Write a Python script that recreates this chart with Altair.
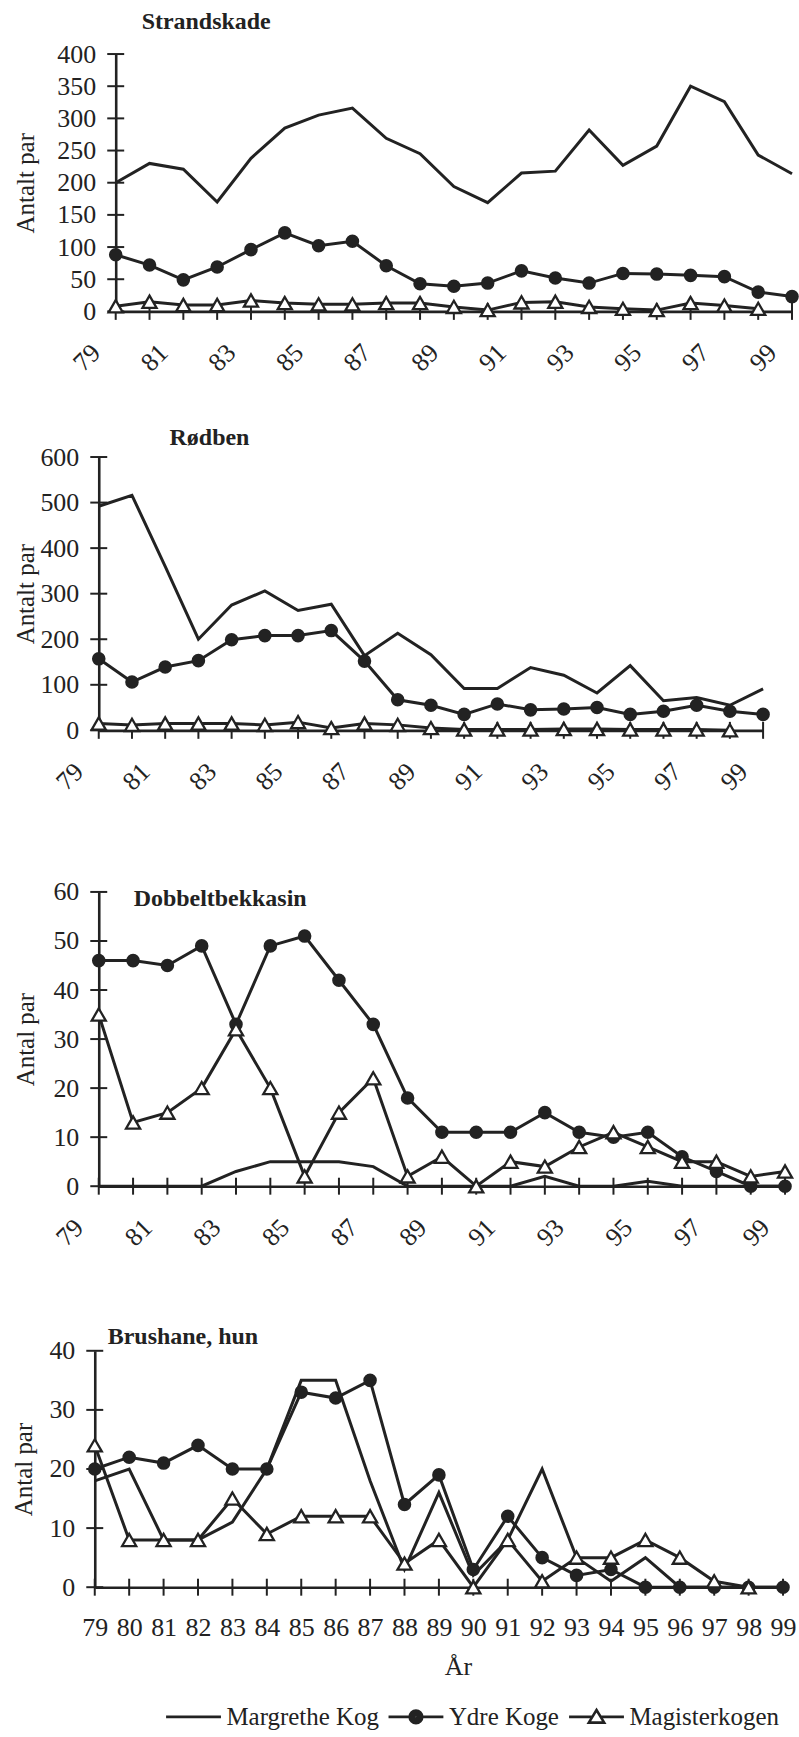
import altair as alt
import pandas as pd

# ---- data -------------------------------------------------------------
years = list(range(79, 100))
odd_years = list(range(79, 100, 2))
series_names = ["Margrethe Kog", "Ydre Koge", "Magisterkogen"]

# Strandskade
strand_margrethe = [200, 230, 221, 170, 238, 285, 305, 316, 269, 245, 194,
                    169, 215, 218, 282, 227, 257, 350, 326, 243, 214]
strand_ydre = [88, 72, 49, 69, 96, 122, 102, 109, 71, 43, 39,
               44, 63, 52, 44, 59, 58, 56, 54, 30, 23]
strand_magister = [8, 15, 10, 10, 17, 13, 11, 11, 13, 13, 7,
                   2, 14, 15, 7, 4, 2, 13, 9, 4, None]

# Rødben
roed_margrethe = [492, 516, 360, 200, 275, 306, 263, 277, 164, 213, 166,
                  92, 92, 138, 121, 82, 142, 65, 72, 55, 91]
roed_ydre = [157, 106, 139, 153, 199, 208, 208, 219, 152, 67, 55,
             35, 58, 45, 47, 50, 35, 42, 55, 42, 35]
roed_magister = [15, 12, 15, 15, 15, 12, 18, 5, 15, 12, 5,
                 2, 2, 2, 3, 3, 2, 2, 2, 0, None]

# Dobbeltbekkasin
dob_margrethe = [0, 0, 0, 0, 3, 5, 5, 5, 4, 0, 0,
                 0, 0, 2, 0, 0, 1, 0, 0, 0, 0]
dob_ydre = [46, 46, 45, 49, 33, 49, 51, 42, 33, 18, 11,
            11, 11, 15, 11, 10, 11, 6, 3, 0, 0]
dob_magister = [35, 13, 15, 20, 32, 20, 2, 15, 22, 2, 6,
                0, 5, 4, 8, 11, 8, 5, 5, 2, 3]

# Brushane, hun
bru_margrethe = [18, 20, 8, 8, 11, 20, 35, 35, 18, 3, 16,
                 2, 8, 20, 5, 1, 5, 0, 0, 0, 0]
bru_ydre = [20, 22, 21, 24, 20, 20, 33, 32, 35, 14, 19,
            3, 12, 5, 2, 3, 0, 0, 0, 0, 0]
bru_magister = [24, 8, 8, 8, 15, 9, 12, 12, 12, 4, 8,
                0, 8, 1, 5, 5, 8, 5, 1, 0, None]

# ---- styling ----------------------------------------------------------
FONT = "Liberation Serif"
INK = "#222222"
ORIGIN = 93  # page x of the shared panel origin

# legend glyphs (stroked only): plain line, line with solid dot,
# line with open triangle; the dot is filled with concentric rings
_rings = "".join(
    f"M{r},0A{r},{r},0,1,1,-{r},0A{r},{r},0,1,1,{r},0Z"
    for r in (0.23, 0.19, 0.15, 0.11, 0.07, 0.035)
)
SYM_LINE = "M-1,0L1,0"
SYM_DOT = "M-1,0L-0.2,0M0.2,0L1,0" + _rings
SYM_TRI = "M-1,0L-0.15,0M0.15,0L1,0M0,-0.25L0.28,0.21L-0.28,0.21Z"


def long_frame(margrethe, ydre, magister):
    rows = []
    for name, vals in zip(series_names, (margrethe, ydre, magister)):
        for yr, v in zip(years, vals):
            if v is not None:
                rows.append({"year": yr, "series": name, "v": v})
    return pd.DataFrame(rows)


def panel(df, title, title_pos, y_title, y_title_x, ymax, ystep,
          x_range, width, height, plot_h, bottom=False):
    x0, x1 = x_range
    yvals = list(range(0, ymax + 1, ystep))
    xs = alt.Scale(domain=[79, 99], range=[x0, x1], nice=False, zero=False)
    ys = alt.Scale(domain=[0, ymax], range=[height, height - plot_h],
                   nice=False, zero=True)

    y_axis = alt.Axis(
        values=yvals, ticks=False, grid=False, domainColor=INK, domainWidth=2.6,
        labelFont=FONT, labelFontSize=26, labelColor=INK, labelPadding=20,
        labelOverlap=False, labelFlush=False, offset=-x0,
        title=y_title, titleFont=FONT, titleFontSize=25, titleFontWeight="normal",
        titleColor=INK, titleAngle=270, titleBaseline="alphabetic",
        titleAlign="center", titleX=y_title_x - (ORIGIN + x0),
    )
    if bottom:
        x_axis = alt.Axis(
            values=years, format="d", ticks=False, grid=False, domainColor=INK,
            domainWidth=2.6, labelFont=FONT, labelFontSize=26, labelColor=INK,
            labelAngle=0, labelAlign="center", labelBaseline="middle",
            labelPadding=40, labelFlush=False, labelOverlap=False,
            title="År", titleFont=FONT, titleFontSize=26, titleFontWeight="normal",
            titleColor=INK, titleX=364, titleY=88, titleBaseline="alphabetic",
            titleAlign="center",
        )
    else:
        x_axis = alt.Axis(
            values=odd_years, format="d", ticks=False, grid=False, domainColor=INK,
            domainWidth=2.6, labelFont=FONT, labelFontSize=26, labelColor=INK,
            labelAngle=315, labelAlign="right", labelBaseline="middle",
            labelOffset=-20, labelPadding=37, labelFlush=False,
            labelOverlap=False, title=None,
        )

    X = alt.X("year:Q", scale=xs, axis=x_axis)
    Y = alt.Y("v:Q", scale=ys, axis=y_axis)

    # tick marks crossing both axis lines
    x_tick_df = pd.DataFrame({"year": years, "v": [0] * len(years)})
    y_tick_df = pd.DataFrame({"year": [79] * len(yvals), "v": yvals})
    x_ticks = alt.Chart(x_tick_df).mark_tick(
        orient="vertical", size=17, thickness=2, color=INK, opacity=1
    ).encode(x=X, y=Y)
    y_ticks = alt.Chart(y_tick_df).mark_tick(
        orient="horizontal", size=17, thickness=2, color=INK, opacity=1
    ).encode(x=X, y=Y)

    lines = alt.Chart(df).mark_line(color=INK, strokeWidth=3).encode(
        x=X, y=Y, detail="series:N"
    )
    dots = alt.Chart(df).transform_filter(
        alt.datum.series == "Ydre Koge"
    ).mark_point(shape="circle", filled=True, size=185, color=INK, opacity=1).encode(x=X, y=Y)
    tris = alt.Chart(df).transform_filter(
        alt.datum.series == "Magisterkogen"
    ).mark_point(shape="triangle-up", size=200, filled=True, fill="white",
                 stroke=INK, strokeWidth=2.3, opacity=1).encode(x=X, y=Y)

    heading = alt.Chart(pd.DataFrame({"t": [title]})).mark_text(
        align="left", baseline="alphabetic", font=FONT, fontSize=24,
        fontWeight="bold", color=INK
    ).encode(text="t:N", x=alt.value(title_pos[0]), y=alt.value(title_pos[1]))

    layers = [x_ticks, y_ticks, lines, dots, tris, heading]

    if bottom:
        key = alt.Chart(df).transform_filter("datum.v < 0").mark_point(
            filled=False, stroke=INK, strokeWidth=2.6
        ).encode(
            shape=alt.Shape(
                "series:N",
                scale=alt.Scale(domain=series_names,
                                range=[SYM_LINE, SYM_DOT, SYM_TRI]),
                legend=alt.Legend(
                    title=None, orient="none", legendX=70, legendY=503,
                    direction="horizontal", symbolSize=3025,
                    symbolStrokeColor=INK, symbolFillColor="white",
                    symbolStrokeWidth=2.6, symbolOpacity=1, labelFont=FONT,
                    labelFontSize=25, labelColor=INK, labelOffset=4,
                    columnPadding=4, padding=0, labelLimit=0,
                ),
            ),
        )
        layers.append(key)

    return alt.layer(*layers).properties(width=width, height=height)


p1 = panel(long_frame(strand_margrethe, strand_ydre, strand_magister),
           "Strandskade", (47, -25), "Antalt par", 32, 400, 50,
           (21, 699), 700, 258, 258)
p2 = panel(long_frame(roed_margrethe, roed_ydre, roed_magister),
           "Rødben", (75, 134), "Antalt par", 32, 600, 100,
           (4, 670), 671, 420, 274)
p3 = panel(long_frame(dob_margrethe, dob_ydre, dob_magister),
           "Dobbeltbekkasin", (39, 176), "Antal par", 32, 60, 10,
           (4, 692), 693, 457, 295)
p4 = panel(long_frame(bru_margrethe, bru_ydre, bru_magister),
           "Brushane, hun", (13, 158), "Antal par", 30, 40, 10,
           (0, 690), 690, 402, 237, bottom=True)

chart = alt.vconcat(p1, p2, p3, p4, spacing=0, bounds="flush").resolve_scale(
    x="independent", y="independent", shape="independent"
).resolve_legend(shape="independent").configure_view(strokeWidth=0).properties(
    padding={"left": 12, "top": 8, "right": 0, "bottom": 4},
    background="white",
)

chart.save("out.html", embed_options={"renderer": "svg", "actions": False})
